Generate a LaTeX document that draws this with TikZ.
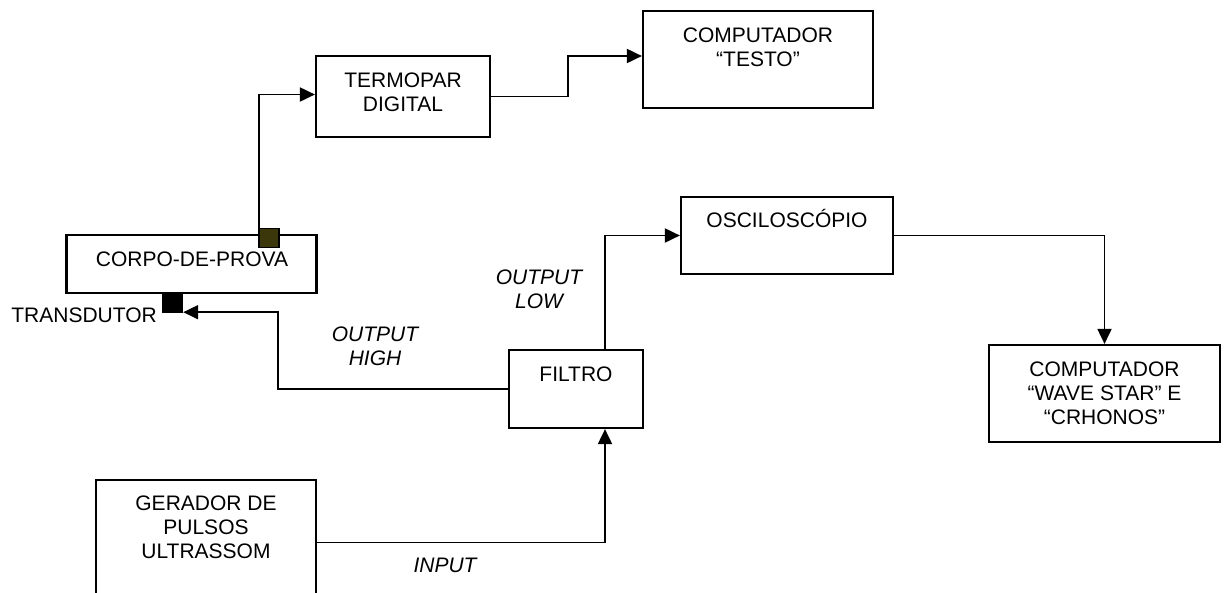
\documentclass[tikz,border=0pt]{standalone}
\usepackage{fontspec}
\setmainfont{Liberation Sans}
\usetikzlibrary{arrows.meta,calc}
\definecolor{olivebox}{RGB}{60,55,10}
\begin{document}
\begin{tikzpicture}[x=1pt,y=-1pt,
  box/.style={draw,line width=2.2pt,minimum width=#1,inner sep=0pt},
  txt/.style={font=\fontsize{21}{24}\selectfont,align=center,inner sep=0pt},
  itxt/.style={font=\fontsize{21}{24}\selectfont\itshape,align=center,inner sep=0pt},
  conn/.style={line width=1.9pt},
  arr/.style={conn,-{Triangle[length=15pt,width=14pt]}},
  sq/.style={draw,line width=1.4pt,minimum width=20pt,minimum height=19pt,inner sep=0pt}]
\useasboundingbox (0,0) rectangle (1225,592);
% boxes
\node[box=230pt,minimum height=97pt] (testo) at (758,59.5) {};
\node[box=174pt,minimum height=81pt] (termo) at (403,96.5) {};
\node[box=250pt,minimum height=58pt] (corpo) at (191.5,264) {};
\node[box=212pt,minimum height=77pt] (osc) at (787,235.5) {};
\node[box=134pt,minimum height=78pt] (filtro) at (576,389) {};
\node[box=231pt,minimum height=97pt] (comp) at (1104.5,393.5) {};
\node[box=220pt,minimum height=125pt] (ger) at (206,542.5) {};
% squares
\node[sq,fill=olivebox] (sensor) at (269,238) {};
\node[sq,fill=black] (trans) at (172.5,303) {};
% texts
\node[txt] (ttesto) at (758,47) {COMPUTADOR\\“TESTO”};
\node[txt] (ttermo) at (403,92) {TERMOPAR\\DIGITAL};
\node[txt] (tcorpo) at (192,259) {CORPO-DE-PROVA};
\node[txt,text height=15pt,text depth=0pt] (tosc) at (787,220) {OSCILOSCÓPIO};
\node[txt] (tfiltro) at (576,374) {FILTRO};
\node[txt] (tcomp) at (1104.5,393) {COMPUTADOR\\“WAVE STAR” E\\“CRHONOS”};
\node[txt] (tger) at (206,527.5) {GERADOR DE\\PULSOS\\ULTRASSOM};
\node[txt,anchor=east] (ttrans) at (157,315) {TRANSDUTOR};
\node[itxt] (thigh) at (375,346.5) {OUTPUT\\HIGH};
\node[itxt] (tlow) at (539,289.5) {OUTPUT\\LOW};
\node[itxt] (tinput) at (445,565) {INPUT};
% connectors
\draw[arr] ([xshift=1pt]sensor.north west) |- ([yshift=2pt]termo.west);
\draw[arr] (termo.east) -- ++(76.5,0) |- ([yshift=3.5pt]testo.west);
\draw[arr] (filtro.west) -- ++(-230,0) |- ([yshift=1pt]trans.south east);
\draw[arr] ([xshift=29pt]filtro.north) |- (osc.west);
\draw[arr] (osc.east) -| (comp.north);
\draw[arr] (ger.east) -| ([xshift=29pt]filtro.south);
\end{tikzpicture}
\end{document}
